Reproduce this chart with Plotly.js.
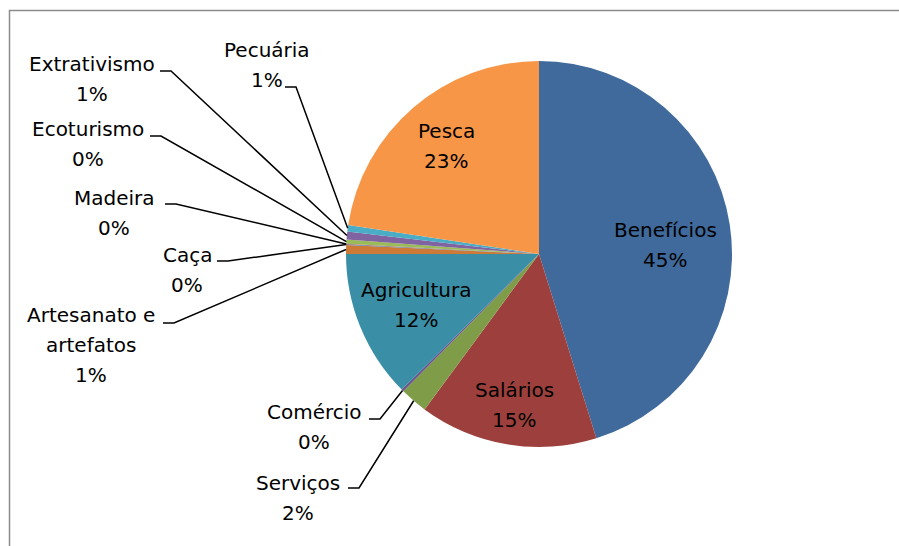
<!DOCTYPE html>
<html>
<head>
<meta charset="utf-8">
<script src="https://cdn.plot.ly/plotly-3.0.1.min.js"></script>
<style>
  html, body { margin: 0; padding: 0; background: #fff; }
  #chart { width: 899px; height: 546px; }
</style>
</head>
<body>
<div id="chart"></div>
<script>
// Renda por fonte (pie chart)
const labels = ['Benefícios', 'Salários', 'Serviços', 'Comércio', 'Agricultura',
    'Artesanato e<br>artefatos', 'Caça', 'Madeira', 'Ecoturismo', 'Extrativismo',
    'Pecuária', 'Pesca'];
const values = [45.2, 14.9, 2.3, 0.2, 12.4, 0.75, 0.05, 0.05, 0.35, 0.65, 0.55, 22.6];
const colors = ['#3F6A9B', '#9D403D', '#7F9C48', '#69548C', '#3A8FA6', '#CC7A36',
    '#4F81BD', '#C0504D', '#9BBB59', '#8064A2', '#4BACC6', '#F79646'];

const W = 899, H = 546;
const cx = 539, cy = 254, R = 193;
const LINE = 30;
const FONT = { family: 'DejaVu Sans', size: 20, color: '#000' };

// label placement: [center x, baseline of first line, elbow x, elbow y] (pixels)
const labelPlace = [
    [665, 237], [514, 397], [298, 490, 348, 488], [314, 419, 369, 419],
    [416, 297], [91, 322, 163, 323], [187, 262, 217, 261], [114, 205, 165, 204],
    [88, 136, 150, 136], [92, 71, 160, 71], [267, 57, 285, 87], [446, 138]
];

const px = x => x / W;
const py = y => 1 - y / H;

const total = values.reduce((a, b) => a + b, 0);
const annotations = [];
const shapes = [];

// frame
shapes.push({
    type: 'rect', xref: 'paper', yref: 'paper',
    x0: px(9.5), x1: 1.05, y0: -0.05, y1: py(10.5),
    line: { color: '#8c8c8c', width: 1.5 }, fillcolor: 'rgba(0,0,0,0)'
});

let cum = 0;
values.forEach((v, i) => {
    const mid = (cum + v / 2) / total * 2 * Math.PI;
    cum += v;
    const pct = Math.round(v / total * 100) + '%';
    const lines = labels[i].split('<br>').concat([pct]);
    const p = labelPlace[i];
    lines.forEach((t, j) => {
        annotations.push({
            xref: 'paper', yref: 'paper',
            x: px(p[0]), y: py(p[1] + j * LINE - 7),
            xanchor: 'center', yanchor: 'middle',
            text: t, showarrow: false, font: FONT
        });
    });
    if (p.length > 2) {
        const ex = cx + R * Math.sin(mid);
        const ey = cy - R * Math.cos(mid);
        shapes.push({
            type: 'path', xref: 'paper', yref: 'paper',
            path: 'M ' + px(p[2]) + ',' + py(p[3]) +
                  ' L ' + px(p[2] + 11) + ',' + py(p[3]) +
                  ' L ' + px(ex) + ',' + py(ey),
            line: { color: '#000', width: 1.5 }
        });
    }
});

const trace = {
    type: 'pie',
    labels: labels,
    values: values,
    sort: false,
    direction: 'clockwise',
    rotation: 0,
    textinfo: 'none',
    hoverinfo: 'none',
    marker: { colors: colors, line: { width: 0 } },
    domain: { x: [px(cx - R), px(cx + R)], y: [py(cy + R), py(cy - R)] },
    showlegend: false
};

const layout = {
    width: W, height: H,
    margin: { l: 0, r: 0, t: 0, b: 0 },
    paper_bgcolor: '#fff',
    plot_bgcolor: '#fff',
    showlegend: false,
    annotations: annotations,
    shapes: shapes
};

Plotly.newPlot('chart', [trace], layout, { displayModeBar: false, staticPlot: true });
</script>
</body>
</html>
